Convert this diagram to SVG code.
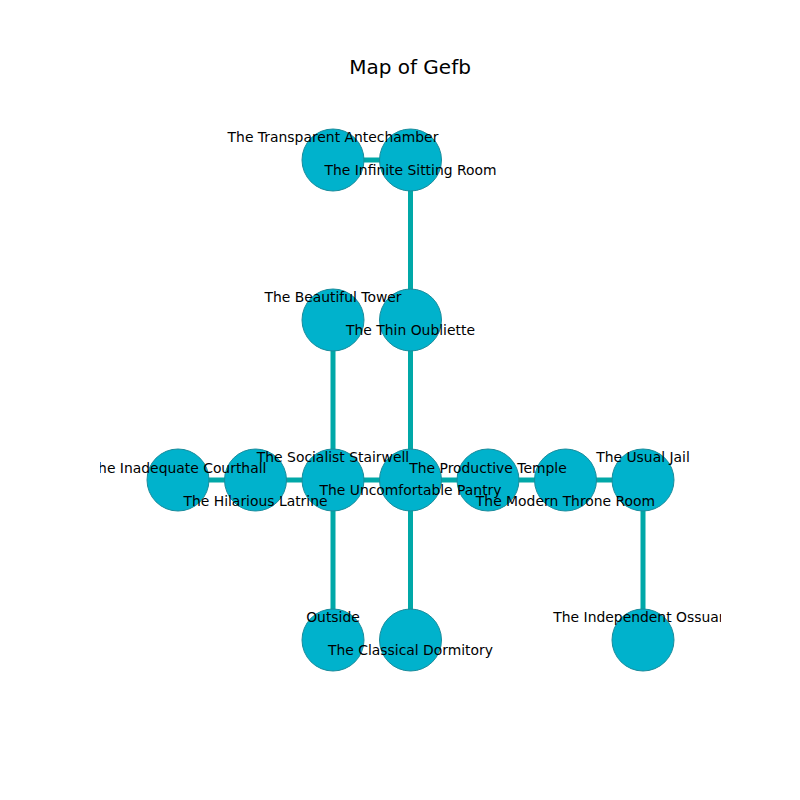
<svg xmlns="http://www.w3.org/2000/svg" width="800" height="800" viewBox="0 0 800 800">
  <defs>
    <clipPath id="axes-clip">
      <rect x="100" y="96" width="621" height="616"/>
    </clipPath>
  </defs>
  <style>
    .edge { stroke: #00a8a8; stroke-width: 5; fill: none; }
    .node circle { fill: #00b2cc; stroke: #1a8c9c; stroke-width: 1; }
    .label { font-family: "DejaVu Sans", sans-serif; font-size: 13.9px; fill: #000; text-anchor: middle; }
    .title { font-family: "DejaVu Sans", sans-serif; font-size: 20px; fill: #000; text-anchor: middle; }
  </style>
  <rect width="800" height="800" fill="#fff"/>
  <text class="title" x="410" y="74">Map of Gefb</text>

  <g id="connectors">
    <line class="edge" x1="333" y1="160" x2="410.5" y2="160"/>
    <line class="edge" x1="410.5" y1="160" x2="410.5" y2="320"/>
    <line class="edge" x1="410.5" y1="320" x2="410.5" y2="480"/>
    <line class="edge" x1="333" y1="320" x2="333" y2="480"/>
    <line class="edge" x1="178" y1="480" x2="643" y2="480"/>
    <line class="edge" x1="333" y1="480" x2="333" y2="640"/>
    <line class="edge" x1="410.5" y1="480" x2="410.5" y2="640"/>
    <line class="edge" x1="643" y1="480" x2="643" y2="640"/>
  </g>

  <g id="nodes">
    <g id="transparent-antechamber" class="node"><circle cx="333" cy="160" r="31"/></g>
    <g id="infinite-sitting-room" class="node"><circle cx="410.5" cy="160" r="31"/></g>
    <g id="beautiful-tower" class="node"><circle cx="333" cy="320" r="31"/></g>
    <g id="thin-oubliette" class="node"><circle cx="410.5" cy="320" r="31"/></g>
    <g id="inadequate-courthall" class="node"><circle cx="178" cy="480" r="31"/></g>
    <g id="hilarious-latrine" class="node"><circle cx="255.5" cy="480" r="31"/></g>
    <g id="socialist-stairwell" class="node"><circle cx="333" cy="480" r="31"/></g>
    <g id="uncomfortable-pantry" class="node"><circle cx="410.5" cy="480" r="31"/></g>
    <g id="productive-temple" class="node"><circle cx="488" cy="480" r="31"/></g>
    <g id="modern-throne-room" class="node"><circle cx="565.5" cy="480" r="31"/></g>
    <g id="usual-jail" class="node"><circle cx="643" cy="480" r="31"/></g>
    <g id="outside" class="node"><circle cx="333" cy="640" r="31"/></g>
    <g id="classical-dormitory" class="node"><circle cx="410.5" cy="640" r="31"/></g>
    <g id="independent-ossuary" class="node"><circle cx="643" cy="640" r="31"/></g>
  </g>

  <g id="labels" clip-path="url(#axes-clip)">
    <text class="label" x="333" y="142">The Transparent Antechamber</text>
    <text class="label" x="410.5" y="175">The Infinite Sitting Room</text>
    <text class="label" x="333" y="302">The Beautiful Tower</text>
    <text class="label" x="410.5" y="335">The Thin Oubliette</text>
    <text class="label" x="178" y="473">The Inadequate Courthall</text>
    <text class="label" x="255.5" y="506">The Hilarious Latrine</text>
    <text class="label" x="333" y="462">The Socialist Stairwell</text>
    <text class="label" x="410.5" y="495">The Uncomfortable Pantry</text>
    <text class="label" x="488" y="473">The Productive Temple</text>
    <text class="label" x="565.5" y="506">The Modern Throne Room</text>
    <text class="label" x="643" y="462">The Usual Jail</text>
    <text class="label" x="333" y="622">Outside</text>
    <text class="label" x="410.5" y="655">The Classical Dormitory</text>
    <text class="label" x="643" y="622">The Independent Ossuary</text>
  </g>
</svg>
